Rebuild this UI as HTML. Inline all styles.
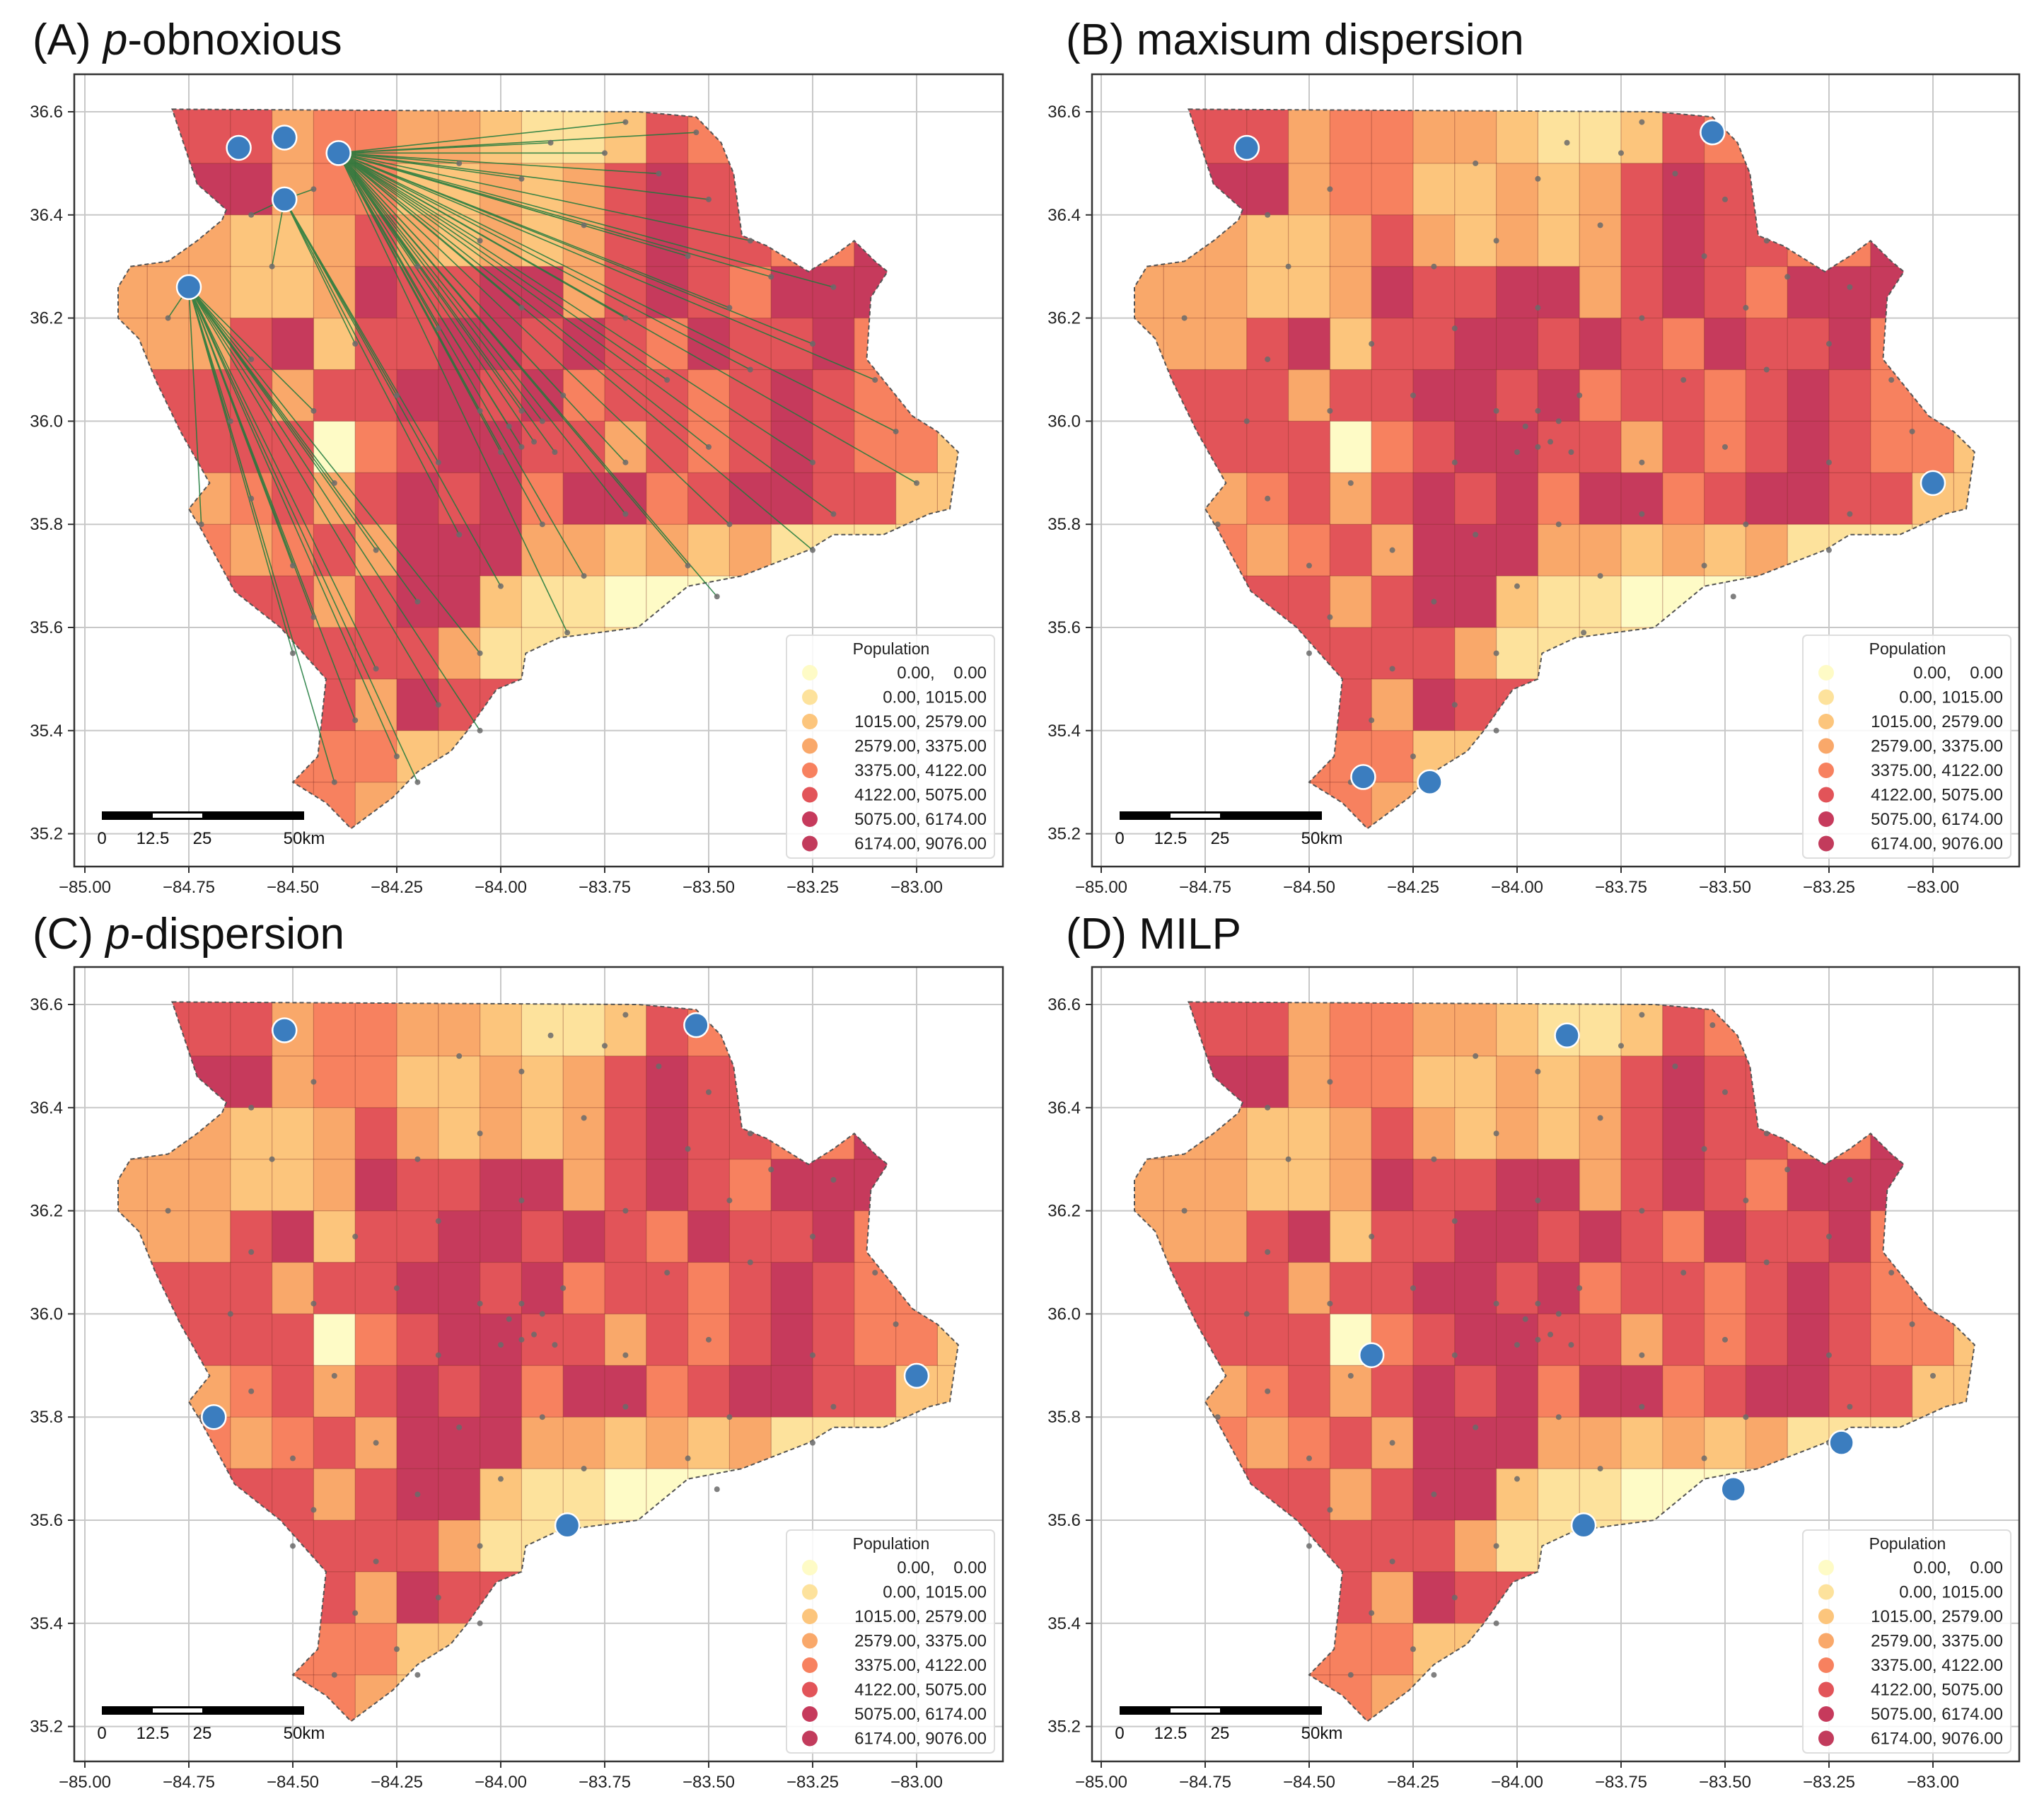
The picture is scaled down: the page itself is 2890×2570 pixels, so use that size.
<!DOCTYPE html>
<html><head><meta charset="utf-8"><style>
html,body{margin:0;padding:0;background:#fff}
svg{display:block;font-family:"Liberation Sans","DejaVu Sans",sans-serif}
</style></head><body>
<svg id="fig" width="2890" height="2570" viewBox="0 0 2890 2570" xmlns="http://www.w3.org/2000/svg"></svg>
<script>
// ---- data ----
const xTicks = [-85.00,-84.75,-84.50,-84.25,-84.00,-83.75,-83.50,-83.25,-83.00];
const yTicks = [36.6,36.4,36.2,36.0,35.8,35.6,35.4,35.2];
const legendLabels = ["0.00,    0.00","0.00, 1015.00","1015.00, 2579.00","2579.00, 3375.00","3375.00, 4122.00","4122.00, 5075.00","5075.00, 6174.00","6174.00, 9076.00"];
const classColors = ["#fefbc6","#fde29c","#fcc57c","#f9a86a","#f7815f","#e25459","#c63a5c","#c23b5c"];
const gridLonStart = -84.9;
const gridLatRows = [36.55,36.45,36.35,36.25,36.15,36.05,35.95,35.85,35.75,35.65,35.55,35.45,35.35,35.25];
const classGrid = [
"555534433211254344444",
"666634422323565555555",
"333223532323565544666",
"333223655663565466666",
"333562556656546556433",
"555535566564554565444",
"555550456655354565442",
"333453565646645665522",
"444345366633232311111",
"555553566211000000000",
"555555553111111111111",
"555555365511111111111",
"444444422222222222222",
"444444322222222222222"];
const outline = [[-84.79,36.605],[-83.67,36.60],[-83.53,36.59],[-83.47,36.54],[-83.44,36.48],[-83.42,36.36],[-83.36,36.34],[-83.26,36.29],[-83.20,36.32],[-83.15,36.35],[-83.10,36.31],[-83.07,36.29],[-83.11,36.24],[-83.12,36.12],[-83.01,36.01],[-82.95,35.98],[-82.90,35.94],[-82.92,35.83],[-82.97,35.82],[-83.08,35.78],[-83.20,35.78],[-83.26,35.75],[-83.42,35.70],[-83.55,35.68],[-83.67,35.60],[-83.86,35.58],[-83.94,35.55],[-83.95,35.50],[-84.01,35.48],[-84.08,35.40],[-84.12,35.36],[-84.20,35.32],[-84.26,35.27],[-84.36,35.21],[-84.42,35.26],[-84.50,35.30],[-84.44,35.35],[-84.42,35.50],[-84.53,35.60],[-84.64,35.67],[-84.72,35.79],[-84.75,35.83],[-84.70,35.88],[-84.77,35.98],[-84.83,36.08],[-84.87,36.16],[-84.92,36.20],[-84.92,36.26],[-84.89,36.30],[-84.80,36.31],[-84.73,36.35],[-84.67,36.39],[-84.66,36.41],[-84.73,36.46]];
const demandLon = [-83.70,-83.53,-83.88,-83.75,-83.62,-83.50,-84.10,-83.95,-83.40,-83.55,-83.80,-84.05,-84.20,-83.35,-83.20,-83.45,-83.70,-83.95,-84.15,-84.35,-84.60,-84.80,-84.55,-83.25,-83.10,-83.40,-83.60,-83.85,-84.05,-84.25,-84.45,-84.65,-83.05,-83.25,-83.50,-83.70,-83.95,-84.15,-84.40,-84.60,-84.72,-83.00,-83.20,-83.45,-83.70,-83.90,-84.10,-84.30,-84.50,-83.25,-83.55,-83.80,-84.00,-84.20,-84.45,-83.48,-83.84,-84.05,-84.30,-84.50,-84.15,-84.35,-84.05,-84.25,-84.40,-84.20,-84.60,-84.45,-83.92,-83.98,-83.90,-84.00,-83.95,-83.87];
const demandLat = [36.58,36.56,36.54,36.52,36.48,36.43,36.50,36.47,36.35,36.32,36.38,36.35,36.30,36.28,36.26,36.22,36.20,36.22,36.18,36.15,36.12,36.20,36.30,36.15,36.08,36.10,36.08,36.05,36.02,36.05,36.02,36.00,35.98,35.92,35.95,35.92,35.95,35.92,35.88,35.85,35.80,35.88,35.82,35.80,35.82,35.80,35.78,35.75,35.72,35.75,35.72,35.70,35.68,35.65,35.62,35.66,35.59,35.55,35.52,35.55,35.45,35.42,35.40,35.35,35.30,35.30,36.40,36.45,35.96,35.99,36.00,35.94,36.02,35.94];
const facA_lon = [-84.63,-84.52,-84.39,-84.52,-84.75];
const facA_lat = [36.53,36.55,36.52,36.43,36.26];
const facB_lon = [-84.65,-83.53,-83.00,-84.37,-84.21];
const facB_lat = [36.53,36.56,35.88,35.31,35.30];
const facC_lon = [-84.52,-83.53,-83.00,-84.69,-83.84];
const facC_lat = [36.55,36.56,35.88,35.80,35.59];
const facD_lon = [-83.88,-84.35,-83.48,-83.22,-83.84];
const facD_lat = [36.54,35.92,35.66,35.75,35.59];
const linkedFacA = [2,3,4]; // facilities in (A) with assignment lines

const NS = "http://www.w3.org/2000/svg";
const svg = document.getElementById("fig");
function mk(tag, attrs, parent){
  const e = document.createElementNS(NS, tag);
  for (const k in attrs) e.setAttribute(k, attrs[k]);
  (parent||svg).appendChild(e);
  return e;
}
const panels = [
 {id:"a", title:"(A) ", it:"p", rest:"-obnoxious", L:105, T:105, R:1418, B:1225, x0:120, y0:158, tx:46, ty:77, fl:facA_lon, ft:facA_lat, lines:true},
 {id:"b", title:"(B) maxisum dispersion", L:1544, T:105, R:2855, B:1225, x0:1557, y0:158, tx:1507, ty:77, fl:facB_lon, ft:facB_lat},
 {id:"c", title:"(C) ", it:"p", rest:"-dispersion", L:105, T:1367, R:1418, B:2490, x0:120, y0:1420, tx:46, ty:1341, fl:facC_lon, ft:facC_lat},
 {id:"d", title:"(D) MILP", L:1544, T:1367, R:2855, B:2490, x0:1557, y0:1420, tx:1507, ty:1341, fl:facD_lon, ft:facD_lat}
];
const PXLON = 588, PXLAT = 729;
panels.forEach(p=>{
  const xs = lon => p.x0 + (lon + 85) * PXLON;
  const ys = lat => p.y0 + (36.6 - lat) * PXLAT;
  const g = mk("g", {});
  
  
  const t = mk("text", {x:p.tx, y:p.ty, "font-size":62, fill:"#111"}, g);
  
  
  t.appendChild(document.createTextNode(p.title));
  if (p.it){ const s = mk("tspan", {"font-style":"italic"}, t); s.textContent = p.it;
    t.appendChild(document.createTextNode(p.rest)); }
  const cid = "clip" + p.id;
  const defs = mk("defs", {}, g);
  const cp = mk("clipPath", {id:cid}, defs);
  const pts = outline.map(q => xs(q[0]).toFixed(1) + "," + ys(q[1]).toFixed(1)).join(" ");
  mk("polygon", {points:pts}, cp);
  const gl = mk("g", {stroke:"#c8c8c8", "stroke-width":2}, g);
  
  
  xTicks.forEach(v => mk("line", {x1:xs(v), x2:xs(v), y1:p.T, y2:p.B}, gl));
  yTicks.forEach(v => mk("line", {x1:p.L, x2:p.R, y1:ys(v), y2:ys(v)}, gl));
  const m = mk("g", {"clip-path":"url(#" + cid + ")"}, g);
  
  
  mk("polygon", {points:pts, fill:classColors[3]}, m);
  gridLatRows.forEach((lat, r) => {
    const row = classGrid[r];
    for (let c = 0; c < row.length; c++){
      const lon = gridLonStart + c * 0.1;
      const cls = +row[c];
      const top = r === 0 ? 36.7 : lat + 0.05;
      const bot = r === gridLatRows.length - 1 ? 35.1 : lat - 0.05;
      const cell = mk("rect", {x:xs(lon - 0.05), y:ys(top), width:(0.1*PXLON)+0.5, height:(top-bot)*PXLAT+0.5, fill:classColors[cls], stroke:"rgba(130,50,40,0.35)", "stroke-width":1.2}, m);
      
      
    }
  });
  const ol = mk("polygon", {points:pts, fill:"none", stroke:"#555", "stroke-width":2, "stroke-dasharray":"6,4"}, g);
  
  
  if (p.lines){
    const lg = mk("g", {stroke:"#1d7a3c", "stroke-width":1.6, opacity:0.85}, g);
    
    
    demandLon.forEach((lon, i) => {
      let best = linkedFacA[0], bd = 1e9;
      linkedFacA.forEach(f => { const d = (p.fl[f]-lon)**2 + (p.ft[f]-demandLat[i])**2; if (d < bd){bd = d; best = f;} });
      mk("line", {x1:xs(p.fl[best]), y1:ys(p.ft[best]), x2:xs(lon), y2:ys(demandLat[i])}, lg);
    });
  }
  const dg = mk("g", {fill:"#6b6b6b", opacity:0.85}, g);
  
  
  demandLon.forEach((lon, i) => mk("circle", {cx:xs(lon), cy:ys(demandLat[i]), r:4}, dg));
  p.fl.forEach((lon, i) => {
    const c = mk("circle", {cx:xs(lon), cy:ys(p.ft[i]), r:17, fill:"#3b7dbf", stroke:"#fff", "stroke-width":2.5}, g);
    
    
  });
  const fr = mk("rect", {x:p.L, y:p.T, width:p.R-p.L, height:p.B-p.T, fill:"none", stroke:"#333", "stroke-width":2.5}, g);
  
  
  xTicks.forEach(v => {
    mk("line", {x1:xs(v), x2:xs(v), y1:p.B, y2:p.B+9, stroke:"#333", "stroke-width":2}, g);
    const tl = mk("text", {x:xs(v), y:p.B+37, "font-size":24, "text-anchor":"middle", fill:"#222"}, g);
    
    
    tl.textContent = "\u2212" + Math.abs(v).toFixed(2);
  });
  yTicks.forEach(v => {
    mk("line", {x1:p.L-9, x2:p.L, y1:ys(v), y2:ys(v), stroke:"#333", "stroke-width":2}, g);
    const tl = mk("text", {x:p.L-16, y:ys(v)+8, "font-size":24, "text-anchor":"end", fill:"#222"}, g);
    
    
    tl.textContent = v.toFixed(1);
  });
  const sb = mk("g", {}, g);
  
  
  const sx = p.L + 39, sy = p.B - 78;
  mk("rect", {x:sx, y:sy, width:286, height:12, fill:"#000"}, sb);
  mk("rect", {x:sx+72, y:sy+3, width:70, height:6, fill:"#fff"}, sb);
  [["0",sx],["12.5",sx+72],["25",sx+142],["50km",sx+286]].forEach(a => {
    const tt = mk("text", {x:a[1], y:sy+46, "font-size":24, "text-anchor":"middle", fill:"#111"}, sb);
    tt.textContent = a[0];
  });
  const lgx = p.R - 306, lgy = p.B - 327;
  const lg2 = mk("g", {}, g);
  
  
  mk("rect", {x:lgx, y:lgy, width:294, height:315, rx:6, fill:"rgba(255,255,255,0.85)", stroke:"#ddd", "stroke-width":2}, lg2);
  const lt = mk("text", {x:lgx+148, y:lgy+27, "font-size":23, "text-anchor":"middle", fill:"#222"}, lg2);
  lt.textContent = "Population";
  legendLabels.forEach((lab, i) => {
    const cy = lgy + 53 + i * 34.5;
    const e = mk("g", {}, lg2);
    
    
    mk("circle", {cx:lgx+33, cy:cy, r:11, fill:classColors[i]}, e);
    const tx = mk("text", {x:lgx+283, y:cy+8, "font-size":24, "text-anchor":"end", fill:"#222", "xml:space":"preserve"}, e);
    tx.setAttribute("style", "white-space:pre");
    tx.textContent = lab;
  });
});
</script>
</body></html>
